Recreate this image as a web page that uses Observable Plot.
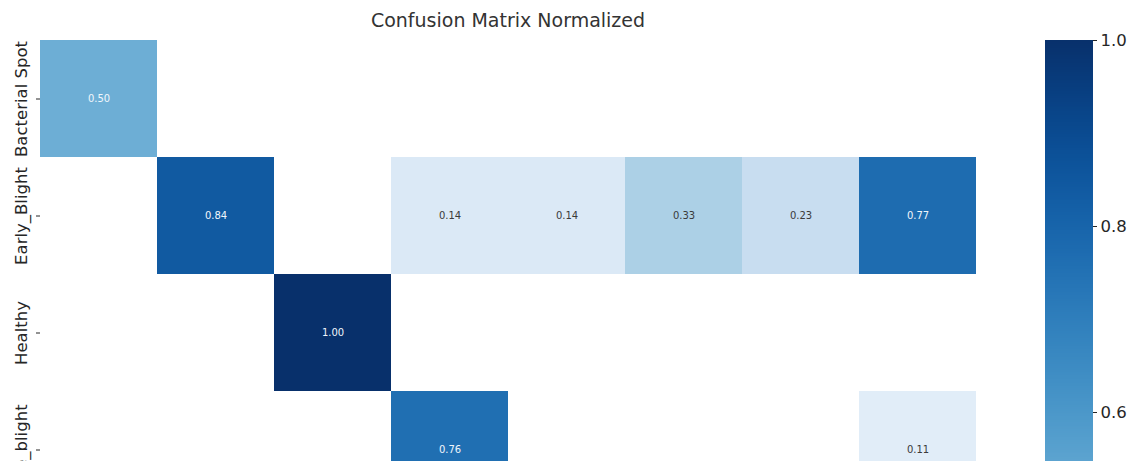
<!DOCTYPE html>
<html>
<head>
<meta charset="utf-8">
<script src="https://cdn.jsdelivr.net/npm/d3@7"></script>
<script src="https://cdn.jsdelivr.net/npm/@observablehq/plot@0.6"></script>
<style>
  html, body { margin: 0; padding: 0; background: #fff; overflow: hidden; }
  #wrap { position: relative; width: 1140px; height: 461px; overflow: hidden; font-family: "DejaVu Sans", sans-serif; }
  #title { position: absolute; z-index: 2; top: 9px; left: 40px; width: 936px; text-align: center; font-size: 19px; color: #333; }
  #heat { position: absolute; z-index: 1; left: 0; top: 0; }
  #cbar { position: absolute; z-index: 1; left: 1000px; top: 0; }
</style>
</head>
<body>
<div id="wrap">
  <div id="title">Confusion Matrix Normalized</div>
  <div id="heat"></div>
  <div id="cbar"></div>
</div>
<script>
// Class names (rows = predicted, columns = true); only the top rows are visible in the crop
const classNames = ["Bacterial Spot", "Early_Blight", "Healthy", "Late_blight", "Leaf_Mold", "Septoria", "Target_Spot", "background"];
// Visible row values (null = empty cell)
const rowBacterialSpot = [0.50, null, null, null, null, null, null, null];
const rowEarlyBlight   = [null, 0.84, null, 0.14, 0.14, 0.33, 0.23, 0.77];
const rowHealthy       = [null, null, 1.00, null, null, null, null, null];
const rowLateBlight    = [null, null, null, 0.76, null, null, null, 0.11];
// Colorbar tick labels visible in the crop
const colorbarTicks = [0.6, 0.8, 1.0];

const rows = [
  ["Bacterial Spot", rowBacterialSpot],
  ["Early_Blight", rowEarlyBlight],
  ["Healthy", rowHealthy],
  ["Late_blight", rowLateBlight]
];
const cells = [];
for (const [r, vals] of rows) {
  vals.forEach((v, i) => { if (v != null) cells.push({pred: r, truth: classNames[i], value: v}); });
}

const heat = Plot.plot({
  width: 1000,
  height: 461,
  marginLeft: 40,
  marginRight: 24,
  marginTop: 40,
  marginBottom: 0,
  style: {fontFamily: "DejaVu Sans, sans-serif", color: "#262626", background: "transparent"},
  x: {domain: classNames, padding: 0, axis: null},
  y: {domain: classNames, padding: 0, range: [40, 976], axis: null},
  color: {type: "linear", scheme: "blues", domain: [0, 1]},
  marks: [
    Plot.cell(cells, {x: "truth", y: "pred", fill: "value", inset: 0}),
    Plot.text(cells, {x: "truth", y: "pred", text: d => d.value.toFixed(2), fontSize: 10,
      fill: d => d.value >= 0.45 ? "#f0f6fc" : "#3a3a3a"}),
    Plot.axisY(rows.map(r => r[0]), {tickSize: 4, tickFormat: () => "", label: null}),
    Plot.text(rows.map(r => r[0]), {y: d => d, frameAnchor: "left", rotate: -90, dx: -19,
      lineAnchor: "middle", textAnchor: "middle", fontSize: 16.5, fill: "#262626"})
  ]
});
document.getElementById("heat").appendChild(heat);

const steps = d3.range(0, 1, 0.002);
const cbar = Plot.plot({
  width: 140,
  height: 461,
  marginLeft: 45,
  marginRight: 48,
  marginTop: 40,
  marginBottom: 0,
  style: {fontFamily: "DejaVu Sans, sans-serif", color: "#262626", background: "transparent"},
  y: {domain: [0, 1], range: [970, 40]},
  color: {type: "linear", scheme: "blues", domain: [0, 1]},
  marks: [
    Plot.rect(steps, {y1: d => d, y2: d => Math.min(1, d + 0.002), fill: d => d, stroke: d => d,
      strokeWidth: 1, shapeRendering: "crispEdges"}),
    Plot.axisY({anchor: "right", ticks: colorbarTicks, tickFormat: ".1f", tickSize: 4, tickPadding: 4, fontSize: 16.5, label: null})
  ]
});
document.getElementById("cbar").appendChild(cbar);
</script>
</body>
</html>
